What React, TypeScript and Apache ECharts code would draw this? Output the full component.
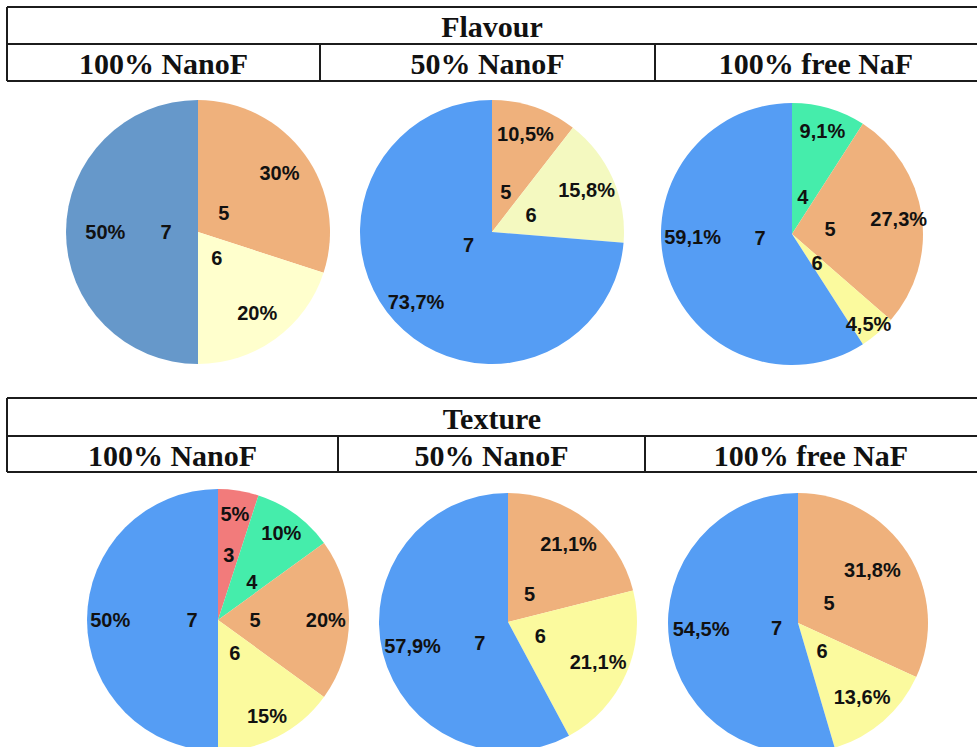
import React, { useEffect, useRef } from "react";
import * as echarts from "echarts";

// Sensory score categories and the share (%) of panellists giving each score
const flavourNano100Cats = ["5", "6", "7"];
const flavourNano100Pct = [30, 20, 50];

const flavourNano50Cats = ["5", "6", "7"];
const flavourNano50Pct = [10.5, 15.8, 73.7];

const flavourFreeNaFCats = ["4", "5", "6", "7"];
const flavourFreeNaFPct = [9.1, 27.3, 4.5, 59.1];

const textureNano100Cats = ["3", "4", "5", "6", "7"];
const textureNano100Pct = [5, 10, 20, 15, 50];

const textureNano50Cats = ["5", "6", "7"];
const textureNano50Pct = [21.1, 21.1, 57.9];

const textureFreeNaFCats = ["5", "6", "7"];
const textureFreeNaFPct = [31.8, 13.6, 54.5];

const groupTitles = ["Flavour", "Texture"];
const treatmentLabels = ["100% NanoF", "50% NanoF", "100% free NaF"];

const BASE_COLORS: Record<string, string> = {
  "3": "#F27B7B",
  "4": "#45EDAB",
  "5": "#EFB17C",
  "6": "#FBFA9E",
  "7": "#559DF4",
};

type Nudge = Record<string, [number, number]>;

type PieDef = {
  cats: string[];
  values: number[];
  center: [number, number];
  r: number;
  numAt: number; // radial position of the score label (fraction of r)
  pctAt: number; // radial position of the percentage label (fraction of r)
  colors?: Record<string, string>;
  numNudge?: Nudge;
  pctNudge?: Nudge;
};

const PIES: PieDef[] = [
  {
    cats: flavourNano100Cats, values: flavourNano100Pct, center: [198, 232], r: 132,
    numAt: 0.22, pctAt: 0.74, colors: { "7": "#6698CA", "6": "#FFFFCD" },
    pctNudge: { "7": [8, 0] },
  },
  {
    cats: flavourNano50Cats, values: flavourNano50Pct, center: [492, 232], r: 132,
    numAt: 0.3, pctAt: 0.76, colors: { "6": "#F4F9C0" }, numNudge: { "7": [8, -16] },
  },
  {
    cats: flavourFreeNaFCats, values: flavourFreeNaFPct, center: [792, 234], r: 131,
    numAt: 0.27, pctAt: 0.8, numNudge: { "7": [5, -7] }, pctNudge: { "7": [4, -27], "6": [6, 8] },
  },
  {
    cats: textureNano100Cats, values: textureNano100Pct, center: [218, 620], r: 131,
    numAt: 0.26, pctAt: 0.8, numNudge: { "3": [5, -28], "4": [12, -8], "7": [11, 0] },
  },
  {
    cats: textureNano50Cats, values: textureNano50Pct, center: [508, 622], r: 129,
    numAt: 0.25, pctAt: 0.74, numNudge: { "7": [6, 12] },
  },
  {
    cats: textureFreeNaFCats, values: textureFreeNaFPct, center: [798, 623], r: 130,
    numAt: 0.26, pctAt: 0.73, numNudge: { "7": [15, 0] }, pctNudge: { "5": [-8, 0], "7": [0, -8] },
  },
];

const fmtPct = (v: number) => String(v).replace(".", ",") + "%";

const LABEL_FONT = {
  fontFamily: "'Liberation Sans', Arial, sans-serif",
  fontWeight: "bold" as const,
  fontSize: 20,
  color: "#111",
};

const HEAD_FONT = "bold 30px 'Liberation Serif', 'Times New Roman', serif";

function buildSeries() {
  const series: any[] = [];
  PIES.forEach((p) => {
    const colorOf = (c: string) => (p.colors && p.colors[c]) || BASE_COLORS[c];
    const base = {
      type: "pie",
      center: p.center,
      startAngle: 90,
      clockwise: true,
      silent: true,
      labelLine: { show: false },
      emphasis: { disabled: true },
    };
    // filled slices
    series.push({
      ...base,
      radius: [0, p.r],
      label: { show: false },
      data: p.cats.map((c, i) => ({ name: c, value: p.values[i], itemStyle: { color: colorOf(c) } })),
    });
    // score labels near the centre
    series.push({
      ...base,
      radius: [0, p.r * p.numAt * 2],
      itemStyle: { color: "transparent" },
      label: { show: true, position: "inside", formatter: "{b}", ...LABEL_FONT },
      data: p.cats.map((c, i) => ({
        name: c,
        value: p.values[i],
        label: p.numNudge && p.numNudge[c] ? { offset: p.numNudge[c] } : undefined,
      })),
    });
    // percentage labels towards the rim
    series.push({
      ...base,
      radius: [p.r * (p.pctAt * 2 - 1), p.r],
      itemStyle: { color: "transparent" },
      label: {
        show: true,
        position: "inside",
        formatter: (prm: any) => fmtPct(prm.value),
        ...LABEL_FONT,
      },
      data: p.cats.map((c, i) => ({
        name: c,
        value: p.values[i],
        label: p.pctNudge && p.pctNudge[c] ? { offset: p.pctNudge[c] } : undefined,
      })),
    });
  });
  return series;
}

function tableGraphics(top: number, mid: number, bottom: number, dividers: number[], title: string) {
  const stroke = { stroke: "#1c1c1c", lineWidth: 2 };
  const els: any[] = [];
  [top, mid, bottom].forEach((y) =>
    els.push({ type: "line", shape: { x1: 7, y1: y, x2: 977, y2: y }, style: stroke })
  );
  els.push({ type: "line", shape: { x1: 7, y1: top, x2: 7, y2: bottom }, style: stroke });
  dividers.forEach((x) =>
    els.push({ type: "line", shape: { x1: x, y1: mid, x2: x, y2: bottom }, style: stroke })
  );
  els.push({
    type: "text",
    x: 492,
    y: (top + mid) / 2 + 1,
    style: { text: title, font: HEAD_FONT, fill: "#111", align: "center", verticalAlign: "middle" },
  });
  const edges = [7, ...dividers, 977];
  treatmentLabels.forEach((t, i) => {
    els.push({
      type: "text",
      x: (edges[i] + edges[i + 1]) / 2,
      y: (mid + bottom) / 2 + 1,
      style: { text: t, font: HEAD_FONT, fill: "#111", align: "center", verticalAlign: "middle" },
    });
  });
  return els;
}

export default function App() {
  const ref = useRef<HTMLDivElement>(null);
  useEffect(() => {
    if (!ref.current) return;
    const chart = echarts.init(ref.current, undefined, { renderer: "svg" });
    chart.setOption({
      animation: false,
      backgroundColor: "#ffffff",
      series: buildSeries(),
      graphic: [
        ...tableGraphics(7, 44, 81, [320, 655], groupTitles[0]),
        ...tableGraphics(398, 436, 472, [338, 645], groupTitles[1]),
      ],
    });
    return () => chart.dispose();
  }, []);
  return (
    <div
      ref={ref}
      style={{ position: "absolute", left: 0, top: 0, width: 977, height: 747, background: "#fff" }}
    />
  );
}
